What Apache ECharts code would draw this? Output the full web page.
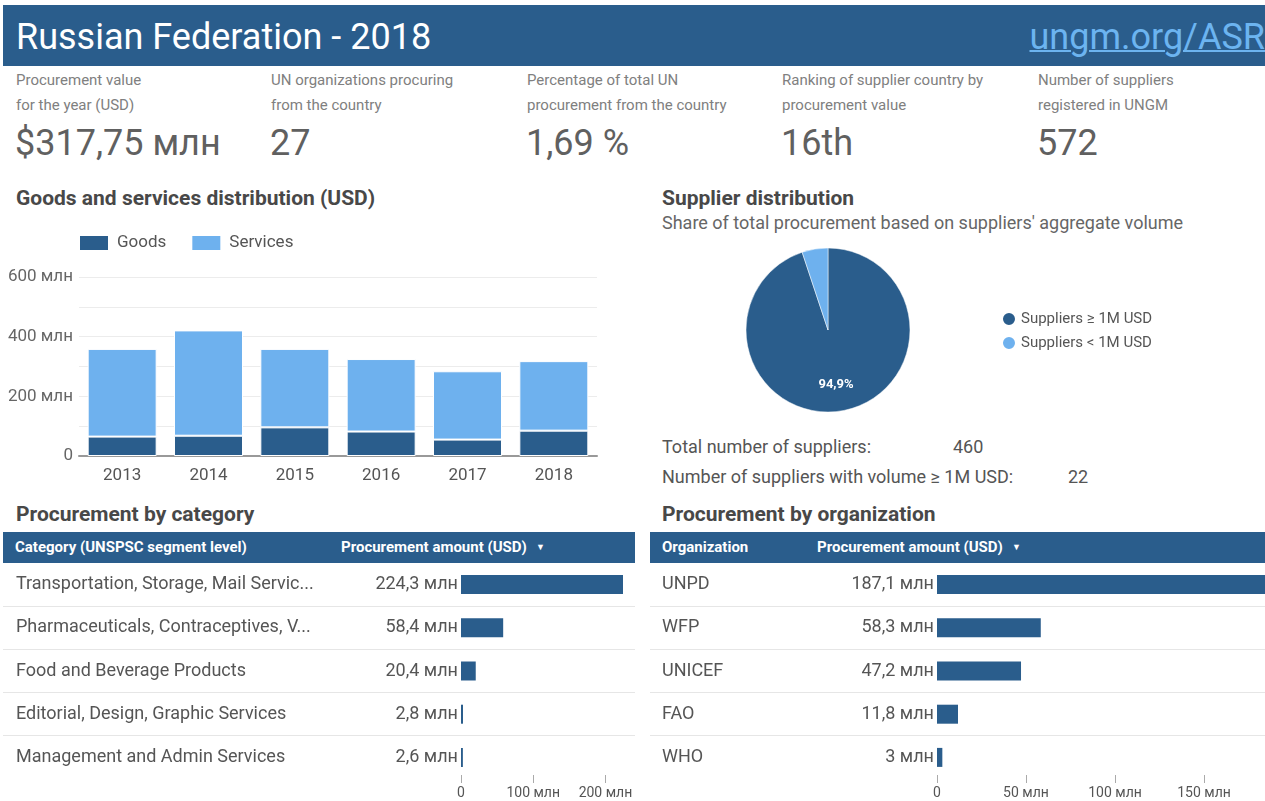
<!DOCTYPE html>
<html lang="en">
<head>
    <meta charset="UTF-8">
    <title>Russian Federation - 2018</title>
    <script src="https://cdn.jsdelivr.net/npm/echarts@6.0.0/dist/echarts.min.js"></script>
    <style>
        body { margin: 0; width: 1265px; height: 801px; overflow: hidden; background: #fff; position: relative; font-family: Roboto, sans-serif; }
        .abs { position: absolute; white-space: nowrap; }
        .head { left: 3px; top: 5px; width: 1262px; height: 61px; background: #2a5d8c; }
        .title { left: 16px; top: 7px; line-height: 61px; font-size: 36px; color: #fff; }
        .link { right: 0; top: 7px; line-height: 61px; font-size: 36px; color: #6cb4f0; text-decoration: underline; text-decoration-thickness: 2px; }
        .kpi { top: 68px; font-size: 15px; line-height: 25px; color: #808080; }
        .kpiv { top: 120px; font-size: 36px; line-height: 46px; color: #606060; }
        .sec { font-size: 21px; font-weight: bold; line-height: 26px; color: #484848; }
        .txt { font-size: 18px; line-height: 24px; color: #555; }
        .th { top: 532px; height: 31px; background: #2a5d8c; }
        .thl { top: 532px; line-height: 31px; font-size: 15px; font-weight: bold; color: #fff; }
        .arr { font-size: 9px; margin-left: 9px; vertical-align: 2px; }
        .sep { height: 1px; background: #e6e6e6; }
        #chart { position: absolute; left: 0; top: 0; width: 1400px; height: 801px; z-index: 1; }
    </style>
</head>
<body>
    <div class="abs head"></div>
    <div class="abs title">Russian Federation - 2018</div>
    <div class="abs link">ungm.org/ASR</div>

    <div class="abs kpi" style="left:16px">Procurement value<br>for the year (USD)</div>
    <div class="abs kpiv" style="left:15px">$317,75 млн</div>
    <div class="abs kpi" style="left:271px">UN organizations procuring<br>from the country</div>
    <div class="abs kpiv" style="left:270px">27</div>
    <div class="abs kpi" style="left:527px">Percentage of total UN<br>procurement from the country</div>
    <div class="abs kpiv" style="left:526px">1,69 %</div>
    <div class="abs kpi" style="left:782px">Ranking of supplier country by<br>procurement value</div>
    <div class="abs kpiv" style="left:781px">16th</div>
    <div class="abs kpi" style="left:1038px">Number of suppliers<br>registered in UNGM</div>
    <div class="abs kpiv" style="left:1037px">572</div>

    <div class="abs sec" style="left:16px; top:185px">Goods and services distribution (USD)</div>
    <div class="abs sec" style="left:662px; top:185px">Supplier distribution</div>
    <div class="abs txt" style="left:662px; top:211px; color:#666">Share of total procurement based on suppliers' aggregate volume</div>
    <div class="abs txt" style="left:662px; top:435px">Total number of suppliers:</div>
    <div class="abs txt" style="left:953px; top:435px">460</div>
    <div class="abs txt" style="left:662px; top:465px">Number of suppliers with volume ≥ 1M USD:</div>
    <div class="abs txt" style="left:1068px; top:465px">22</div>

    <div class="abs sec" style="left:16px; top:501px">Procurement by category</div>
    <div class="abs sec" style="left:662px; top:501px">Procurement by organization</div>

    <!-- table headers -->
    <div class="abs th" style="left:3px; width:632px"></div>
    <div class="abs thl" style="left:15px">Category (UNSPSC segment level)</div>
    <div class="abs thl" style="left:341px">Procurement amount (USD)<span class="arr">▼</span></div>
    <div class="abs th" style="left:650px; width:615px"></div>
    <div class="abs thl" style="left:662px">Organization</div>
    <div class="abs thl" style="left:817px">Procurement amount (USD)<span class="arr">▼</span></div>

    <!-- row lines -->
    <div class="abs sep" style="left:3px; width:632px; top:606px"></div>
    <div class="abs sep" style="left:3px; width:632px; top:649px"></div>
    <div class="abs sep" style="left:3px; width:632px; top:692px"></div>
    <div class="abs sep" style="left:3px; width:632px; top:735px"></div>
    <div class="abs sep" style="left:650px; width:615px; top:606px"></div>
    <div class="abs sep" style="left:650px; width:615px; top:649px"></div>
    <div class="abs sep" style="left:650px; width:615px; top:692px"></div>
    <div class="abs sep" style="left:650px; width:615px; top:735px"></div>

    <div id="chart"></div>

    <script>
        // data (млн USD)
        var years = ['2013', '2014', '2015', '2016', '2017', '2018'];
        var goods = [65, 68, 96, 82, 55, 85];
        var services = [294, 353, 263, 243, 229, 233];

        var pieNames = ['Suppliers ≥ 1M USD', 'Suppliers < 1M USD'];
        var pieShares = [94.9, 5.1];

        var categories = ['Transportation, Storage, Mail Servic...', 'Pharmaceuticals, Contraceptives, V...',
            'Food and Beverage Products', 'Editorial, Design, Graphic Services', 'Management and Admin Services'];
        var categoryAmounts = [224.3, 58.4, 20.4, 2.8, 2.6];

        var organizations = ['UNPD', 'WFP', 'UNICEF', 'FAO', 'WHO'];
        var organizationAmounts = [187.1, 58.3, 47.2, 11.8, 3];

        var dark = '#2a5d8c';
        var light = '#6eb1ee';

        function mln(v) {
            return v === 0 ? '0' : String(v).replace('.', ',') + ' млн';
        }

        function tableAxis(grid, max, ticks) {
            return {
                type: 'value', gridIndex: grid, min: 0, max: max, offset: -4,
                splitLine: { show: false }, axisLine: { show: false },
                axisTick: { show: true, length: 8, customValues: ticks, lineStyle: { color: '#aaa' } },
                axisLabel: { customValues: ticks, formatter: mln, fontSize: 14, color: '#555', margin: 11 }
            };
        }

        function tableNames(grid, names, margin) {
            return {
                type: 'category', gridIndex: grid, data: names, inverse: true,
                axisLine: { show: false }, axisTick: { show: false },
                axisLabel: { align: 'left', margin: margin, fontSize: 18, color: '#555' }
            };
        }

        function tableBars(axis, values) {
            return {
                type: 'bar', xAxisIndex: axis, yAxisIndex: axis, data: values, barWidth: 19,
                itemStyle: { color: dark },
                label: {
                    show: true, position: 'left', distance: 3, fontSize: 18, color: '#555',
                    formatter: function (p) { return mln(p.value); }
                }
            };
        }

        var mChart = echarts.init(document.getElementById('chart'));
        var option = {
            animation: false,
            textStyle: { fontFamily: 'Roboto' },
            legend: [{
                data: ['Goods', 'Services'], left: 78, top: 234, icon: 'rect', padding: 0,
                itemWidth: 30, itemHeight: 16, itemGap: 24,
                textStyle: { fontSize: 17, color: '#555', padding: [0, 0, 0, 3] }
            }, {
                data: pieNames, orient: 'vertical', left: 1001, top: 311, icon: 'circle', padding: 0,
                itemWidth: 14, itemHeight: 14, itemGap: 8,
                textStyle: { fontSize: 15, color: '#555' }
            }],
            grid: [
                { left: 79, top: 277, width: 518, height: 179 },
                { left: 461, top: 563, width: 162, height: 216 },
                { left: 937, top: 563, width: 356, height: 216 }
            ],
            xAxis: [{
                type: 'category', gridIndex: 0, data: years,
                axisLine: { lineStyle: { color: '#999', width: 2 } },
                axisTick: { show: false },
                axisLabel: { fontSize: 17, color: '#555', margin: 11 }
            },
                tableAxis(1, 224.3, [0, 100, 200]),
                tableAxis(2, 200, [0, 50, 100, 150, 200])
            ],
            yAxis: [{
                type: 'value', gridIndex: 0, min: 0, max: 600, interval: 100,
                splitLine: { lineStyle: { color: '#ececec' } },
                axisLabel: {
                    fontSize: 17, color: '#666', margin: 6,
                    formatter: function (v) { return v % 200 === 0 ? mln(v) : ''; }
                }
            },
                tableNames(1, categories, 445),
                tableNames(2, organizations, 275)
            ],
            series: [{
                name: 'Goods', type: 'bar', stack: 'total', data: goods, barWidth: 69,
                itemStyle: { color: dark, borderColor: '#fff', borderWidth: 1 }
            }, {
                name: 'Services', type: 'bar', stack: 'total', data: services, barWidth: 69,
                itemStyle: { color: light, borderColor: '#fff', borderWidth: 1 }
            }, {
                type: 'pie', center: [828, 330], radius: 82, startAngle: 90,
                itemStyle: { borderColor: '#fff', borderWidth: 0.5 },
                label: {
                    show: true, position: 'inside', fontSize: 13, fontWeight: 'bold', color: '#fff',
                    offset: [1, 11],
                    formatter: function (p) { return String(p.value).replace('.', ',') + '%'; }
                },
                data: [
                    { name: pieNames[0], value: pieShares[0], itemStyle: { color: dark } },
                    { name: pieNames[1], value: pieShares[1], itemStyle: { color: light }, label: { show: false } }
                ]
            },
                tableBars(1, categoryAmounts),
                tableBars(2, organizationAmounts)
            ]
        };
        mChart.setOption(option);
    </script>
</body>
</html>
